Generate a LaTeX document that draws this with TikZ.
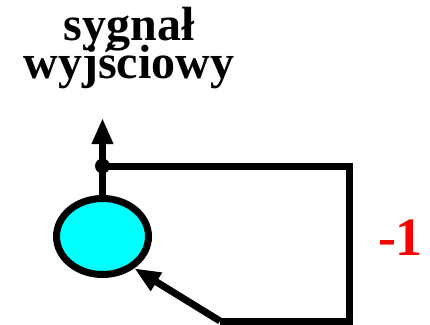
\documentclass[tikz,border=0pt]{standalone}
\usepackage{fontspec}
\setmainfont{Liberation Serif}
\usetikzlibrary{arrows.meta,shapes.geometric}
\definecolor{aqua}{RGB}{0,255,255}
\begin{document}
\begin{tikzpicture}[x=1pt,y=-1pt,
  conn/.style={line width=7pt,line join=miter},
  tip/.style={-{Triangle[length=26pt,width=20pt]}},
  title/.style={font=\bfseries\fontsize{48}{38}\selectfont,anchor=base,inner sep=0pt},
  gain/.style={font=\bfseries\fontsize{54}{54}\selectfont,anchor=base,inner sep=0pt,text=red}]
\useasboundingbox (0,0) rectangle (430,324);
\node[title] (t1) at (129,40) {sygnał};
\node[title] (t2) at (129,78) {wyjściowy};
\node[gain] (g) at (400.5,255) {-1};
\node[ellipse,draw,line width=7pt,fill=aqua,minimum width=92pt,minimum height=76pt,inner sep=0pt] (sum) at (102.5,236.5) {};
\coordinate (out) at (102.5,118);
\coordinate (dot) at (102.5,166);
\coordinate (c1) at (349,166);
\coordinate (c2) at (349,321);
\coordinate (c3) at (220,321);
\draw[conn,tip] (sum.north) -- (out);
\fill (dot) circle (7.5pt);
\draw[conn] (dot) -- (c1) -- (c2) -- (c3);
\draw[conn,tip] (c3) -- (sum.-45);
\end{tikzpicture}
\end{document}
